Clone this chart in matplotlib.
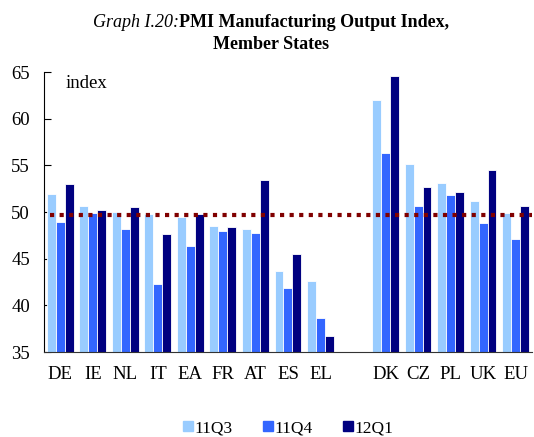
import matplotlib
matplotlib.use("Agg")
import matplotlib.pyplot as plt
import numpy as np
from matplotlib.lines import Line2D

plt.rcParams['font.family'] = ['Liberation Serif', 'DejaVu Serif']

categories = ["DE", "IE", "NL", "IT", "EA", "FR", "AT", "ES", "EL", "", "DK", "CZ", "PL", "UK", "EU"]
q3_11 = [51.9, 50.7, 50.0, 49.8, 49.5, 48.5, 48.2, 43.7, 42.6, np.nan, 62.0, 55.1, 53.1, 51.2, 49.9]
q4_11 = [48.9, 49.9, 48.2, 42.3, 46.4, 48.0, 47.8, 41.9, 38.6, np.nan, 56.3, 50.6, 51.8, 48.8, 47.1]
q1_12 = [53.0, 50.2, 50.5, 47.6, 49.8, 48.4, 53.4, 45.5, 36.7, np.nan, 64.6, 52.7, 52.2, 54.5, 50.7]
threshold = 49.7
series_names = ["11Q3", "11Q4", "12Q1"]
colors = ["#99CCFF", "#3366FF", "#000080"]

fig = plt.figure(figsize=(5.34, 4.37), dpi=100)
ax = fig.add_axes([0.0824, 0.1945, 0.9136, 0.6405])

x = np.arange(len(categories))
w = 0.275
for i, (vals, c) in enumerate(zip([q3_11, q4_11, q1_12], colors)):
    ax.bar(x + (i - 1) * w, np.array(vals) - 35, w, bottom=35, color=c,
           edgecolor="white", linewidth=0.6, zorder=2)

ax.plot([-0.32, 14.5], [threshold, threshold], color="#800000", linewidth=3.0,
        linestyle=(0, (1, 1.3)), dash_capstyle="butt", zorder=3)

ax.set_xlim(-0.5, 14.5)
ax.set_ylim(35, 65)
ax.set_yticks([35, 40, 45, 50, 55, 60, 65])
ax.set_xticks(x)
ax.set_xticklabels(categories)
ax.tick_params(axis="x", length=0, labelsize=13.5, pad=10)
ax.tick_params(axis="y", direction="in", length=5, labelsize=13.5, pad=10)
for s in ["top", "right"]:
    ax.spines[s].set_visible(False)
ax.spines["left"].set_linewidth(0.8)
ax.spines["bottom"].set_linewidth(0.8)
ax.spines["bottom"].set_color("#333333")

ax.text(0.045, 0.99, "index", transform=ax.transAxes, fontsize=13.5, va="top", ha="left")

# Title: italic prefix + bold text, centered as a whole
fs_title = 13
fig.canvas.draw()
r = fig.canvas.get_renderer()
t1 = fig.text(0, 0.948, "Graph I.20:", fontsize=fs_title, style="italic", ha="left", va="center")
t2 = fig.text(0, 0.948, "PMI Manufacturing Output Index,", fontsize=fs_title, weight="bold", ha="left", va="center")
w1 = t1.get_window_extent(r).width
w2 = t2.get_window_extent(r).width
W = fig.bbox.width
cx = 271
start = cx - (w1 + w2) / 2
t1.set_x(start / W)
t2.set_x((start + w1) / W)
fig.text(cx / W, 0.898, "Member States", fontsize=fs_title, weight="bold", ha="center", va="center")

handles = [Line2D([], [], marker="s", linestyle="none", markersize=7, markerfacecolor=c,
                  markeredgecolor=c) for c in colors]
fig.legend(handles, series_names, loc="center", bbox_to_anchor=(0.536, 0.02), ncol=3,
           frameon=False, fontsize=12.5, handletextpad=-0.1, columnspacing=1.5,
           handlelength=1.0)

fig.savefig("out.png", dpi=100)
